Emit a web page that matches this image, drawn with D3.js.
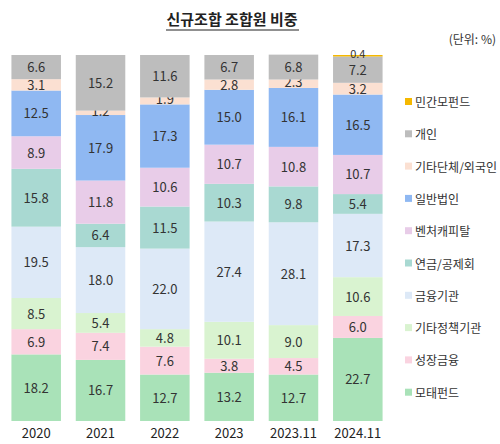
<!DOCTYPE html>
<meta charset="utf-8">
<style>
body { margin:0; background:#fff; font-family:"Noto Sans CJK KR","Noto Sans",sans-serif; }
</style>
<body>
<svg id="chart" width="500" height="444"></svg>
<script src="https://cdn.jsdelivr.net/npm/d3@7"></script>
<script>

var years = ["2020", "2021", "2022", "2023", "2023.11", "2024.11"];
var series = ["모태펀드", "성장금융", "기타정책기관", "금융기관", "연금/공제회", "벤처캐피탈", "일반법인", "기타단체/외국인", "개인", "민간모펀드"];
var colors = ["#a9e2b8", "#fad3e0", "#d9f3d0", "#dde9f7", "#a9d9d2", "#e8cce8", "#8fb8f2", "#fbe0d2", "#bdbdbd", "#f5b800"];
var v2020 = [18.2, 6.9, 8.5, 19.5, 15.8, 8.9, 12.5, 3.1, 6.6, 0];
var v2021 = [16.7, 7.4, 5.4, 18.0, 6.4, 11.8, 17.9, 1.2, 15.2, 0];
var v2022 = [12.7, 7.6, 4.8, 22.0, 11.5, 10.6, 17.3, 1.9, 11.6, 0];
var v2023 = [13.2, 3.8, 10.1, 27.4, 10.3, 10.7, 15.0, 2.8, 6.7, 0];
var v202311 = [12.7, 4.5, 9.0, 28.1, 9.8, 10.8, 16.1, 2.3, 6.8, 0];
var v202411 = [22.7, 6.0, 10.6, 17.3, 5.4, 10.7, 16.5, 3.2, 7.2, 0.4];
var values = [v2020, v2021, v2022, v2023, v202311, v202411];

var svg = d3.select("#chart");

var x = d3.scaleBand().domain(years).range([5, 389]).paddingInner(0.23).paddingOuter(0.1);
var y = d3.scaleLinear().domain([0, 100]).range([421, 55]);

var rows = years.map(function(yr, i) {
  var o = {year: yr};
  series.forEach(function(s, j) { o[s] = values[i][j]; });
  return o;
});
var stack = d3.stack().keys(series)(rows);

var layer = svg.selectAll("g.layer").data(stack).enter().append("g")
  .attr("fill", function(d, i) { return colors[i]; });

layer.selectAll("rect").data(function(d) { return d; }).enter().append("rect")
  .attr("x", function(d) { return x(d.data.year); })
  .attr("width", x.bandwidth())
  .attr("y", function(d) { return y(d[1]); })
  .attr("height", function(d) { return y(d[0]) - y(d[1]); });

layer.selectAll("text").data(function(d) { return d; }).enter()
  .filter(function(d) { return d[1] - d[0] > 0; })
  .append("text")
  .attr("x", function(d) { return x(d.data.year) + x.bandwidth() / 2; })
  .attr("y", function(d) {
    var h = d[1] - d[0];
    if (h < 1) return y(d[1]) + 3;
    if (h < 2.5) return (y(d[0]) + y(d[1])) / 2 + 3;
    return (y(d[0]) + y(d[1])) / 2 + 5;
  })
  .attr("text-anchor", "middle")
  .attr("font-size", function(d) { return (d[1] - d[0]) < 1 ? 11 : 13; })
  .attr("fill", "#333")
  .text(function(d) { return (d[1] - d[0]).toFixed(1); });

svg.append("g").selectAll("text").data(years).enter().append("text")
  .attr("x", function(d) { return x(d) + x.bandwidth() / 2; })
  .attr("y", 438)
  .attr("text-anchor", "middle")
  .attr("font-size", 13)
  .attr("fill", "#222")
  .text(function(d) { return d; });

// title
svg.append("text").attr("x", 232).attr("y", 25).attr("text-anchor", "middle")
  .attr("font-size", 15).attr("font-weight", "bold").attr("fill", "#222")
  .text("신규조합 조합원 비중");
svg.append("line").attr("x1", 166).attr("x2", 299).attr("y1", 30).attr("y2", 30)
  .attr("stroke", "#222").attr("stroke-width", 1.2);
svg.append("text").attr("x", 496).attr("y", 44).attr("text-anchor", "end")
  .attr("font-size", 12).attr("fill", "#333").text("(단위: %)");

// legend (top to bottom reversed)
var leg = svg.append("g").selectAll("g").data(series.slice().reverse()).enter().append("g")
  .attr("transform", function(d, i) { return "translate(405," + (103 + i * 32.3) + ")"; });
leg.append("rect").attr("x", 0).attr("y", -5).attr("width", 7).attr("height", 7)
  .attr("fill", function(d) { return colors[series.indexOf(d)]; });
leg.append("text").attr("x", 10).attr("y", 4).attr("font-size", 12).attr("fill", "#333")
  .text(function(d) { return d; });

</script>
